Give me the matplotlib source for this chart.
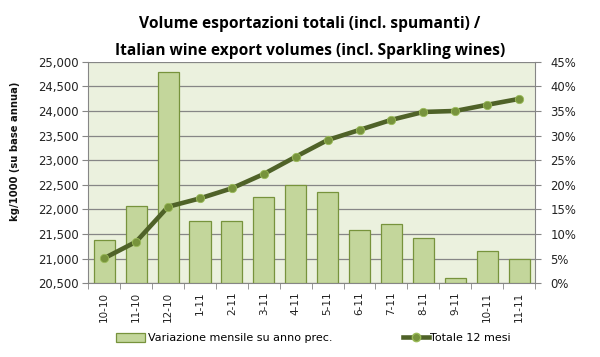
import matplotlib
matplotlib.use("Agg")
import matplotlib.pyplot as plt
from matplotlib.ticker import FuncFormatter, MultipleLocator, FixedLocator
from matplotlib.lines import Line2D
from matplotlib.patches import Patch

categories = ["10-10", "11-10", "12-10", "1-11", "2-11", "3-11", "4-11",
              "5-11", "6-11", "7-11", "8-11", "9-11", "10-11", "11-11"]
variazione_pct = [8.7, 15.6, 43.0, 12.7, 12.7, 17.6, 20.0,
                  18.6, 10.9, 12.0, 9.3, 1.1, 6.5, 5.0]
totale_12_mesi = [21010, 21345, 22055, 22225, 22430, 22720, 23070,
                  23410, 23615, 23820, 23980, 24000, 24125, 24245]

bar_label = "Variazione mensile su anno prec."
line_label = "Totale 12 mesi"
title_1 = "Volume esportazioni totali (incl. spumanti) /"
title_2 = "Italian wine export volumes (incl. Sparkling wines)"
ylabel = "kg/1000 (su base annua)"

plt.rcParams['font.family'] = ['DejaVu Sans']

fig = plt.figure(figsize=(6.0, 3.57), dpi=100)
ax_r = fig.add_axes([0.1472, 0.2064, 0.7445, 0.6207])
ax_l = ax_r.twinx()
ax_l.yaxis.tick_left()
ax_l.yaxis.set_label_position("left")
ax_r.yaxis.tick_right()
ax_r.yaxis.set_label_position("right")
ax_l.set_zorder(ax_r.get_zorder() + 1)
ax_l.patch.set_visible(False)
ax_r.set_facecolor("#ebf1de")

x = list(range(len(categories)))
ax_r.bar(x, variazione_pct, width=0.66, color="#c3d69b", edgecolor="#77933c",
         linewidth=0.9, zorder=3)
ax_r.set_ylim(0, 45)
ax_r.yaxis.set_major_locator(MultipleLocator(5))
ax_r.yaxis.set_major_formatter(FuncFormatter(lambda v, p: f"{v:.0f}%"))
ax_r.grid(axis="y", color="#868686", linewidth=0.9, zorder=0)
ax_r.set_axisbelow(True)

ax_l.plot(x, totale_12_mesi, color="#4f6228", linewidth=3.3, zorder=4,
          marker="o", markersize=6, markerfacecolor="#77933c",
          markeredgecolor="#9bbb59", markeredgewidth=0.6)
ax_l.set_ylim(20500, 25000)
ax_l.yaxis.set_major_locator(MultipleLocator(500))
ax_l.yaxis.set_major_formatter(FuncFormatter(lambda v, p: f"{v:,.0f}"))

ax_r.set_xlim(-0.5, len(categories) - 0.5)
ax_r.set_xticks(x)
ax_r.set_xticklabels(categories, rotation=90, fontsize=7.5, color="#222222")
ax_r.tick_params(axis="x", length=0, pad=6)
ax_r.xaxis.set_minor_locator(FixedLocator([i - 0.5 for i in range(len(categories) + 1)]))
ax_r.tick_params(axis="x", which="minor", length=4, color="#868686", direction="out")

for a in (ax_l, ax_r):
    for s in a.spines.values():
        s.set_visible(False)
ax_r.spines["bottom"].set_visible(True)
ax_r.spines["bottom"].set_color("#868686")
ax_l.spines["left"].set_visible(True)
ax_l.spines["left"].set_color("#868686")
ax_r.spines["right"].set_visible(True)
ax_r.spines["right"].set_color("#868686")

ax_l.tick_params(axis="y", labelsize=8.4, length=4, color="#868686", pad=3, labelcolor="#222222")
ax_r.tick_params(axis="y", labelsize=8.4, length=4, color="#868686", pad=7, labelcolor="#222222")

fig.text(15 / 600, 1 - 151 / 357, ylabel, rotation=90, ha="center", va="center",
         fontsize=7.2, fontweight="bold", color="#111111")

tfam = ["Open Sans", "DejaVu Sans"]
fig.text(310 / 600, 1 - 28 / 357, title_1, ha="center", va="baseline", fontsize=11.2,
         fontweight="bold", family=tfam)
fig.text(310 / 600, 1 - 55 / 357, title_2, ha="center", va="baseline", fontsize=11.2,
         fontweight="bold", family=tfam)

handles = [Patch(facecolor="#c3d69b", edgecolor="#77933c", linewidth=0.9, label=bar_label)]
fig.legend(handles=handles, loc="center left", bbox_to_anchor=(116 / 600, 1 - 338 / 357),
           frameon=False, fontsize=8, handlelength=2.6, handleheight=0.9,
           handletextpad=0.3, borderaxespad=0, borderpad=0)
lh = [Line2D([0], [0], color="#4f6228", linewidth=3.3, marker="o", markersize=6,
             markerfacecolor="#77933c", markeredgecolor="#9bbb59", label=line_label)]
fig.legend(handles=lh, loc="center left", bbox_to_anchor=(403 / 600, 1 - 338 / 357),
           frameon=False, fontsize=8, handlelength=2.3, handletextpad=0.1,
           borderaxespad=0, borderpad=0)

fig.savefig("out.png", dpi=100)
